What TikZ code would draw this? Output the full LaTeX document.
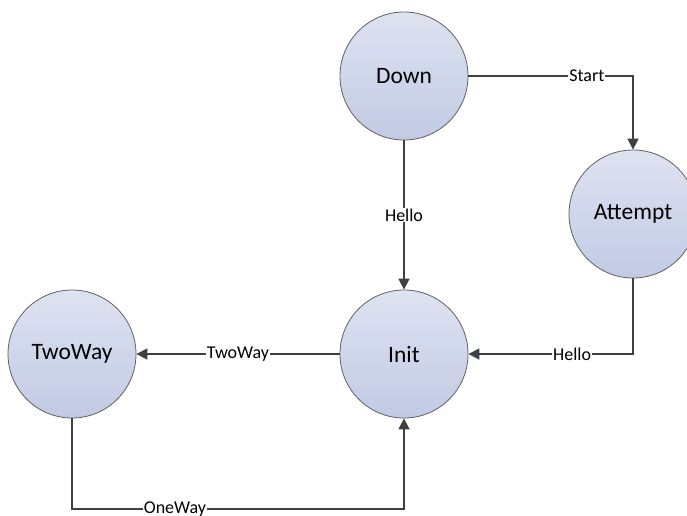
\documentclass[tikz,border=0pt]{standalone}
\usepackage{fontspec}
\setmainfont{Carlito}
\usetikzlibrary{arrows.meta}
\definecolor{edgegray}{RGB}{64,64,64}
\definecolor{rimgray}{RGB}{96,96,96}
\definecolor{filltop}{RGB}{222,227,241}
\definecolor{fillbot}{RGB}{194,202,228}
\begin{document}
\begin{tikzpicture}[x=1pt,y=-1pt,
  state/.style={circle,draw=rimgray,line width=0.8pt,minimum size=128pt,inner sep=0pt,
    top color=filltop,bottom color=fillbot,font=\fontsize{23.5}{25}\selectfont},
  trans/.style={draw=edgegray,line width=1.6pt,-{Triangle[length=11pt,width=11pt]}},
  lbl/.style={fill=white,inner sep=1pt,font=\fontsize{18}{20}\selectfont,text=black}]
\useasboundingbox (0,0) rectangle (687,515);
\node[state] (down) at (404,76) {Down};
\node[state] (attempt) at (633,214) {Attempt};
\node[state] (init) at (404,354) {Init};
\node[state] (twoway) at (72,354) {TwoWay};
\coordinate (startc) at (633,76);
\coordinate (helloc) at (633,354);
\coordinate (owl) at (72,509);
\coordinate (owr) at (404,509);
\draw[trans] (down.east) -- node[lbl,pos=0.72] {Start} (startc) -- (attempt.north);
\draw[trans] (down.south) -- node[lbl,pos=0.5] {Hello} (init.north);
\draw[trans] (attempt.south) -- (helloc) -- node[lbl,pos=0.37] {Hello} (init.east);
\draw[trans] (init.west) -- node[lbl,pos=0.5] {TwoWay} (twoway.east);
\draw[trans] (twoway.south) -- (owl) -- node[lbl,pos=0.31] {OneWay} (owr) -- (init.south);
\end{tikzpicture}
\end{document}
